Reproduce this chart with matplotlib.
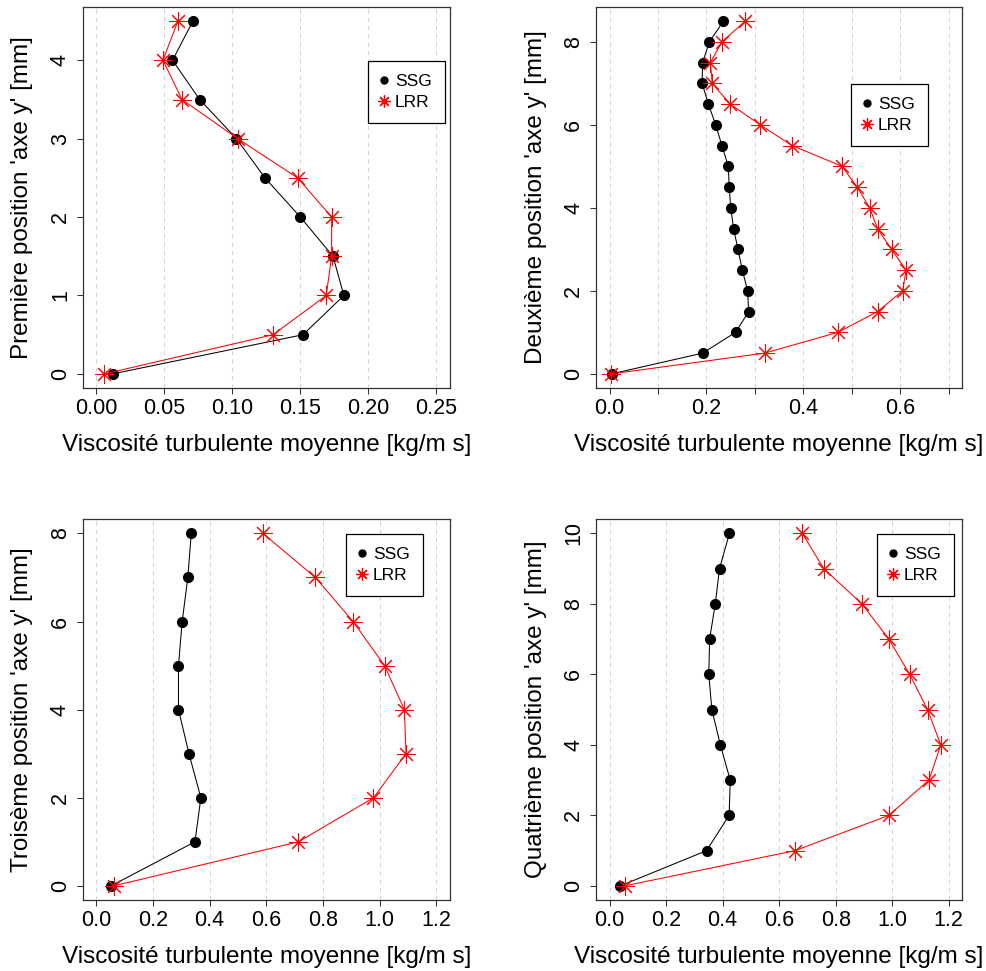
"""
Viscosité turbulente moyenne - comparaison SSG / LRR sur quatre positions.
"""

import matplotlib
matplotlib.use("Agg")

import matplotlib.pyplot as plt
from matplotlib.lines import Line2D

plt.rcParams["font.family"] = ["Liberation Sans", "DejaVu Sans"]

# --- données ------------------------------------------------------------
y1 = [0.0, 0.5, 1.0, 1.5, 2.0, 2.5, 3.0, 3.5, 4.0, 4.5]
ssg1 = [0.012, 0.152, 0.182, 0.174, 0.150, 0.124, 0.103, 0.076, 0.056, 0.071]
lrr1 = [0.006, 0.130, 0.169, 0.173, 0.173, 0.148, 0.104, 0.063, 0.049, 0.060]

y2 = [0.0, 0.5, 1.0, 1.5, 2.0, 2.5, 3.0, 3.5, 4.0, 4.5,
      5.0, 5.5, 6.0, 6.5, 7.0, 7.5, 8.0, 8.5]
ssg2 = [0.004, 0.192, 0.260, 0.287, 0.285, 0.274, 0.265, 0.256, 0.250, 0.247,
        0.245, 0.232, 0.219, 0.204, 0.191, 0.192, 0.206, 0.235]
lrr2 = [0.003, 0.320, 0.471, 0.553, 0.605, 0.612, 0.582, 0.553, 0.537, 0.511,
        0.480, 0.377, 0.311, 0.249, 0.212, 0.208, 0.232, 0.280]

y3 = [0, 1, 2, 3, 4, 5, 6, 7, 8]
ssg3 = [0.052, 0.348, 0.369, 0.327, 0.290, 0.290, 0.303, 0.323, 0.335]
lrr3 = [0.061, 0.713, 0.978, 1.093, 1.087, 1.017, 0.906, 0.773, 0.588]

y4 = [0, 1, 2, 3, 4, 5, 6, 7, 8, 9, 10]
ssg4 = [0.038, 0.343, 0.423, 0.427, 0.392, 0.362, 0.351, 0.354, 0.374, 0.389, 0.424]
lrr4 = [0.053, 0.656, 0.988, 1.130, 1.172, 1.125, 1.062, 0.988, 0.893, 0.758, 0.682]

ylabels = [
    "Première position 'axe y' [mm]",
    "Deuxième position 'axe y' [mm]",
    "Troisème position 'axe y' [mm]",
    "Quatrième position 'axe y' [mm]",
]
xlabel = "Viscosité turbulente moyenne [kg/m s]"

xticks1 = [0.00, 0.05, 0.10, 0.15, 0.20, 0.25]
xticklabels1 = ["0.00", "0.05", "0.10", "0.15", "0.20", "0.25"]
xticks2 = [0.0, 0.1, 0.2, 0.3, 0.4, 0.5, 0.6, 0.7]
xticklabels2 = ["0.0", "", "0.2", "", "0.4", "", "0.6", ""]
xticks34 = [0.0, 0.2, 0.4, 0.6, 0.8, 1.0, 1.2]
xticklabels34 = ["0.0", "0.2", "0.4", "0.6", "0.8", "1.0", "1.2"]

yticks1 = [0, 1, 2, 3, 4]
yticks23 = [0, 2, 4, 6, 8]
yticks4 = [0, 2, 4, 6, 8, 10]

W, H = 986, 971
RED = "#ff0000"
ASTERISK = (8, 2, 0)


def px_rect(left, top, right, bottom):
    return [left / W, 1 - bottom / H, (right - left) / W, (bottom - top) / H]


def r_lim(lo, hi):
    pad = 0.04 * (hi - lo)
    return lo - pad, hi + pad


fig = plt.figure(figsize=(W / 100, H / 100), dpi=100)

panels = [
    dict(rect=px_rect(82.7, 7, 450, 388), y=y1, ssg=ssg1, lrr=lrr1, xlim=(0, 0.25),
         xt=xticks1, xtl=xticklabels1, yt=yticks1, leg=(368, 61)),
    dict(rect=px_rect(596, 7, 962.3, 388), y=y2, ssg=ssg2, lrr=lrr2, xlim=(0, 0.7),
         xt=xticks2, xtl=xticklabels2, yt=yticks23, leg=(851, 84)),
    dict(rect=px_rect(82.7, 519.3, 450, 900), y=y3, ssg=ssg3, lrr=lrr3, xlim=(0, 1.2),
         xt=xticks34, xtl=xticklabels34, yt=yticks23, leg=(346, 534)),
    dict(rect=px_rect(596, 519.3, 962.3, 900), y=y4, ssg=ssg4, lrr=lrr4, xlim=(0, 1.2),
         xt=xticks34, xtl=xticklabels34, yt=yticks4, leg=(877, 534)),
]

for p, ylab in zip(panels, ylabels):
    ax = fig.add_axes(p["rect"])
    for xv in p["xt"]:
        ax.axvline(xv, color="#d3d3d3", lw=0.75, ls=(0, (4, 4)), zorder=0)

    ax.plot(p["ssg"], p["y"], color="black", lw=0.75, marker="o", ms=7,
            mfc="black", mec="black", zorder=3)
    ax.plot(p["lrr"], p["y"], color=RED, lw=0.75, marker=ASTERISK, ms=13,
            mec=RED, mew=0.75, zorder=4)

    ax.set_xlim(*r_lim(*p["xlim"]))
    ax.set_ylim(*r_lim(min(p["y"]), max(p["y"])))
    ax.set_xticks(p["xt"])
    ax.set_xticklabels(p["xtl"])
    ax.set_yticks(p["yt"])
    ax.set_yticklabels([str(v) for v in p["yt"]], rotation=90, va="center")
    ax.tick_params(axis="both", direction="out", length=4.5, width=0.75,
                   labelsize=15.5, color="#333333")
    ax.tick_params(axis="x", pad=3)
    ax.tick_params(axis="y", pad=4)
    for s in ax.spines.values():
        s.set_linewidth(0.9)
        s.set_color("#333333")

    ax.set_xlabel(xlabel, fontsize=17.5, va="center")
    ax.xaxis.set_label_coords(0.5, -0.15)
    ax.set_ylabel(ylab, fontsize=17.5, va="center")
    ax.yaxis.set_label_coords(-0.165, 0.5)

    handles = [
        Line2D([], [], ls="none", marker="o", ms=5, color="black"),
        Line2D([], [], ls="none", marker=ASTERISK, ms=9, mec=RED, mew=0.9),
    ]
    lx, ly = p["leg"]
    leg = fig.legend(handles, ["SSG", "LRR"], loc="upper left",
                     bbox_to_anchor=(lx / W, 1 - ly / H), fontsize=12.5,
                     frameon=True, fancybox=False, framealpha=1, edgecolor="black",
                     borderpad=0.75, labelspacing=0.35, handlelength=0.35,
                     handletextpad=0.45, borderaxespad=0)
    leg.get_frame().set_linewidth(0.9)

fig.savefig("out.png", dpi=100)
plt.close(fig)
